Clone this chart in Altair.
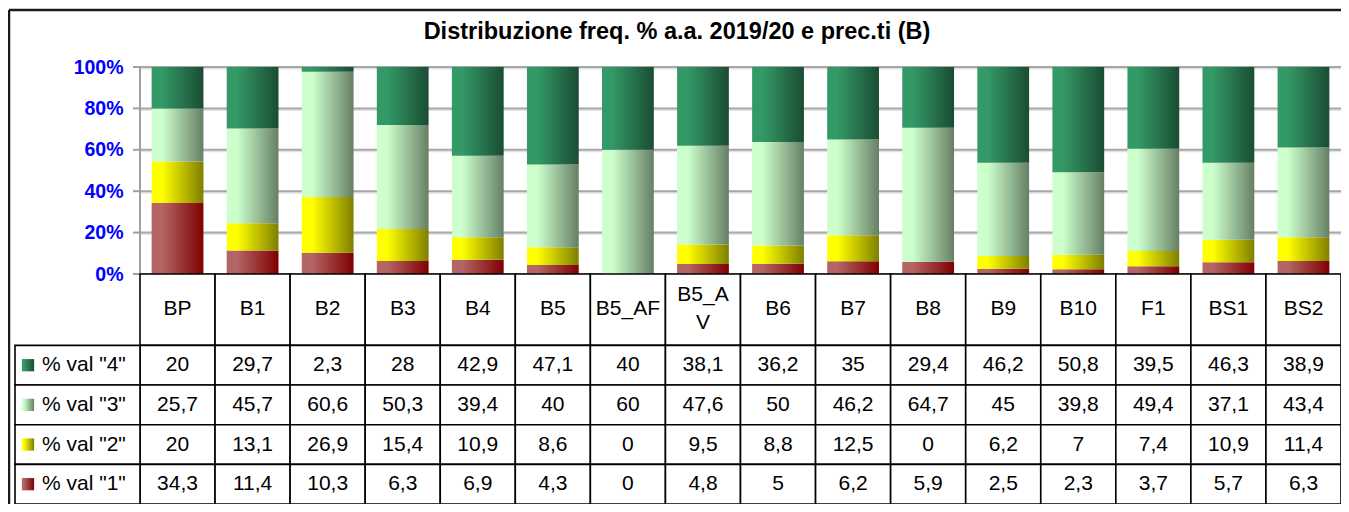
import altair as alt
import pandas as pd

# ---------------- data ----------------
categories = ["BP", "B1", "B2", "B3", "B4", "B5", "B5_AF", "B5_AV",
              "B6", "B7", "B8", "B9", "B10", "F1", "BS1", "BS2"]
header_labels = ["BP", "B1", "B2", "B3", "B4", "B5", "B5_AF", "B5_A\nV",
                 "B6", "B7", "B8", "B9", "B10", "F1", "BS1", "BS2"]
series_keys = ["4", "3", "2", "1"]
series_names = ['% val "4"', '% val "3"', '% val "2"', '% val "1"']
val4 = [20, 29.7, 2.3, 28, 42.9, 47.1, 40, 38.1, 36.2, 35, 29.4, 46.2, 50.8, 39.5, 46.3, 38.9]
val3 = [25.7, 45.7, 60.6, 50.3, 39.4, 40, 60, 47.6, 50, 46.2, 64.7, 45, 39.8, 49.4, 37.1, 43.4]
val2 = [20, 13.1, 26.9, 15.4, 10.9, 8.6, 0, 9.5, 8.8, 12.5, 0, 6.2, 7, 7.4, 10.9, 11.4]
val1 = [34.3, 11.4, 10.3, 6.3, 6.9, 4.3, 0, 4.8, 5, 6.2, 5.9, 2.5, 2.3, 3.7, 5.7, 6.3]
y_ticks = [0, 20, 40, 60, 80, 100]
title_text = "Distribuzione freq. % a.a. 2019/20 e prec.ti (B)"

light_colors = {"4": "#339966", "3": "#CCFFCC", "2": "#FFFF00", "1": "#B46565"}
dark_colors = {"4": "#1A4C33", "3": "#667F66", "2": "#7F7F00", "1": "#7F0000"}

# ---------------- layout ----------------
PLOT_W = 1201
BAR_H = 207
TABLE_H = 230
FONT = "Liberation Sans"
HEADER_UNITS = 1.8
TEXT_SIZE = 21
LINE_H = 28
ROW_PX = TABLE_H / (HEADER_UNITS + 4)
PCT_PER_PX = 100 / BAR_H
TABLE_PCT = TABLE_H * PCT_PER_PX


def row_to_y(r):
    # table row units (0 = table top) -> shared y units (below 0%)
    return -r * ROW_PX * PCT_PER_PX


values_by_key = {"4": val4, "3": val3, "2": val2, "1": val1}

# stacked (normalised) bar segments, bottom to top: 1, 2, 3, 4
seg_rows = []
for i, c in enumerate(categories):
    vals = [val1[i], val2[i], val3[i], val4[i]]
    tot = sum(vals)
    cum = 0.0
    for k, v in zip(["1", "2", "3", "4"], vals):
        lo = cum / tot * 100
        cum += v
        hi = cum / tot * 100
        seg_rows.append({"cat": c, "s": k, "lo": lo, "hi": hi})
bars_df = pd.DataFrame(seg_rows)

# gridlines / ticks drawn as thin rectangles (2 px) around each tick value
half = 1.0 * PCT_PER_PX
grid_df = pd.DataFrame({"gv": y_ticks})
grid_df["g_top"] = grid_df["gv"] + half
grid_df["g_bot"] = grid_df["gv"] - half
grid_df["s_top"] = grid_df["gv"] - half
grid_df["s_bot"] = grid_df["gv"] - 2.5 * PCT_PER_PX
axis_df = pd.DataFrame({"a": [0], "b": [100]})

# table cells
cell_rows = []
for i, c in enumerate(categories):
    nlines = header_labels[i].count("\n") + 1
    hmid = HEADER_UNITS / 2 - (nlines - 1) * LINE_H / 2 / ROW_PX - 0.03
    cell_rows.append({"cat": c, "top": row_to_y(0), "bottom": row_to_y(HEADER_UNITS),
                      "mid": row_to_y(hmid), "label": header_labels[i]})
    for r, k in enumerate(series_keys):
        v = values_by_key[k][i]
        lab = f"{v:g}".replace(".", ",")
        top = HEADER_UNITS + r
        cell_rows.append({"cat": c, "top": row_to_y(top), "bottom": row_to_y(top + 1),
                          "mid": row_to_y(top + 0.5), "label": lab})
cells_df = pd.DataFrame(cell_rows)

leg_rows = []
for r, (k, n) in enumerate(zip(series_keys, series_names)):
    top = HEADER_UNITS + r
    leg_rows.append({"s": k, "name": n, "top": row_to_y(top), "bottom": row_to_y(top + 1),
                     "mid": row_to_y(top + 0.5)})
leg_df = pd.DataFrame(leg_rows)


def grad(k, hold):
    return alt.LinearGradient(
        gradient="linear", x1=0, x2=1, y1=0, y2=0,
        stops=[alt.GradientStop(offset=0, color=light_colors[k]),
               alt.GradientStop(offset=hold, color=light_colors[k]),
               alt.GradientStop(offset=1, color=dark_colors[k])])


X = alt.X("cat:N", scale=alt.Scale(domain=categories, paddingInner=0, paddingOuter=0), axis=None)
y_scale = alt.Scale(domain=[-TABLE_PCT, 100], zero=False, nice=False)
y_axis = alt.Axis(values=y_ticks, labelExpr="datum.value + '%'", labelColor="#0000FF",
                  labelFontWeight="bold", labelFontSize=19.5, labelFont=FONT, labelPadding=17,
                  domain=False, ticks=False, grid=False, title=None, orient="left")


def Y(field):
    return alt.Y(field, scale=y_scale, axis=y_axis)


grid_shadow = alt.Chart(grid_df).mark_rect(fill="#E2E2E2", strokeWidth=0).encode(
    x=alt.value(0), x2=alt.value(PLOT_W), y=Y("s_top:Q"), y2="s_bot:Q")
grid = alt.Chart(grid_df).mark_rect(fill="#A6A6A6", strokeWidth=0).encode(
    x=alt.value(0), x2=alt.value(PLOT_W), y=Y("g_top:Q"), y2="g_bot:Q")
ticks = alt.Chart(grid_df).mark_rect(fill="#A0A0A0", strokeWidth=0).encode(
    x=alt.value(-7), x2=alt.value(0), y=Y("g_top:Q"), y2="g_bot:Q")
domain_line = alt.Chart(axis_df).mark_rect(fill="#A0A0A0", strokeWidth=0).encode(
    x=alt.value(-1), x2=alt.value(1), y=Y("a:Q"), y2="b:Q")

bar_layers = []
for k in ["1", "2", "3", "4"]:
    bar_layers.append(
        alt.Chart(bars_df).transform_filter(alt.datum.s == k)
        .mark_bar(width=alt.RelativeBandSize(0.69), fill=grad(k, 0.2), strokeWidth=0)
        .encode(x=X, y=Y("lo:Q"), y2="hi:Q")
    )

cells = alt.Chart(cells_df).mark_rect(fill="white", stroke="black", strokeWidth=1.6).encode(
    x=X, y=Y("top:Q"), y2="bottom:Q")
leg_cells = alt.Chart(leg_df).mark_rect(fill="white", stroke="black", strokeWidth=1.6).encode(
    x=alt.value(-125), x2=alt.value(0), y=Y("top:Q"), y2="bottom:Q")
cell_text = alt.Chart(cells_df).mark_text(font=FONT, fontSize=TEXT_SIZE, color="black",
                                          lineBreak="\n", lineHeight=LINE_H).encode(
    x=X, y=Y("mid:Q"), text="label:N")
leg_text = alt.Chart(leg_df).mark_text(font=FONT, fontSize=TEXT_SIZE, color="black", align="left").encode(
    x=alt.value(-98), y=Y("mid:Q"), text="name:N")
swatches = []
for k in series_keys:
    swatches.append(
        alt.Chart(leg_df).transform_filter(alt.datum.s == k)
        .mark_square(size=150, fill=grad(k, 0.15), filled=True, opacity=1, strokeWidth=0)
        .encode(x=alt.value(-112), y=Y("mid:Q"))
    )

one = pd.DataFrame({"t": [title_text]})
title = alt.Chart(one).mark_text(font=FONT, fontSize=23.5, fontWeight="bold", color="black").encode(
    text="t:N", x=alt.value(537), y=alt.value(-35))
border_top = alt.Chart(one).mark_rule(stroke="#1A1A1A", strokeWidth=2.5).encode(
    x=alt.value(-131), x2=alt.value(PLOT_W + 10), y=alt.value(-57))
border_left = alt.Chart(one).mark_rule(stroke="#1A1A1A", strokeWidth=2.5).encode(
    x=alt.value(-131), y=alt.value(-57), y2=alt.value(BAR_H + TABLE_H + 20))

chart = alt.layer(
    grid_shadow, grid, ticks, domain_line, *bar_layers,
    cells, leg_cells, cell_text, leg_text, *swatches,
    border_top, border_left, title,
).properties(
    width=PLOT_W, height=BAR_H + TABLE_H,
    autosize=alt.AutoSizeParams(type="none"),
    padding={"left": 132, "top": 59, "right": 0, "bottom": 0},
    background="white",
).configure_view(stroke=None)

chart.save("out.html", embed_options={"renderer": "svg", "actions": False})
